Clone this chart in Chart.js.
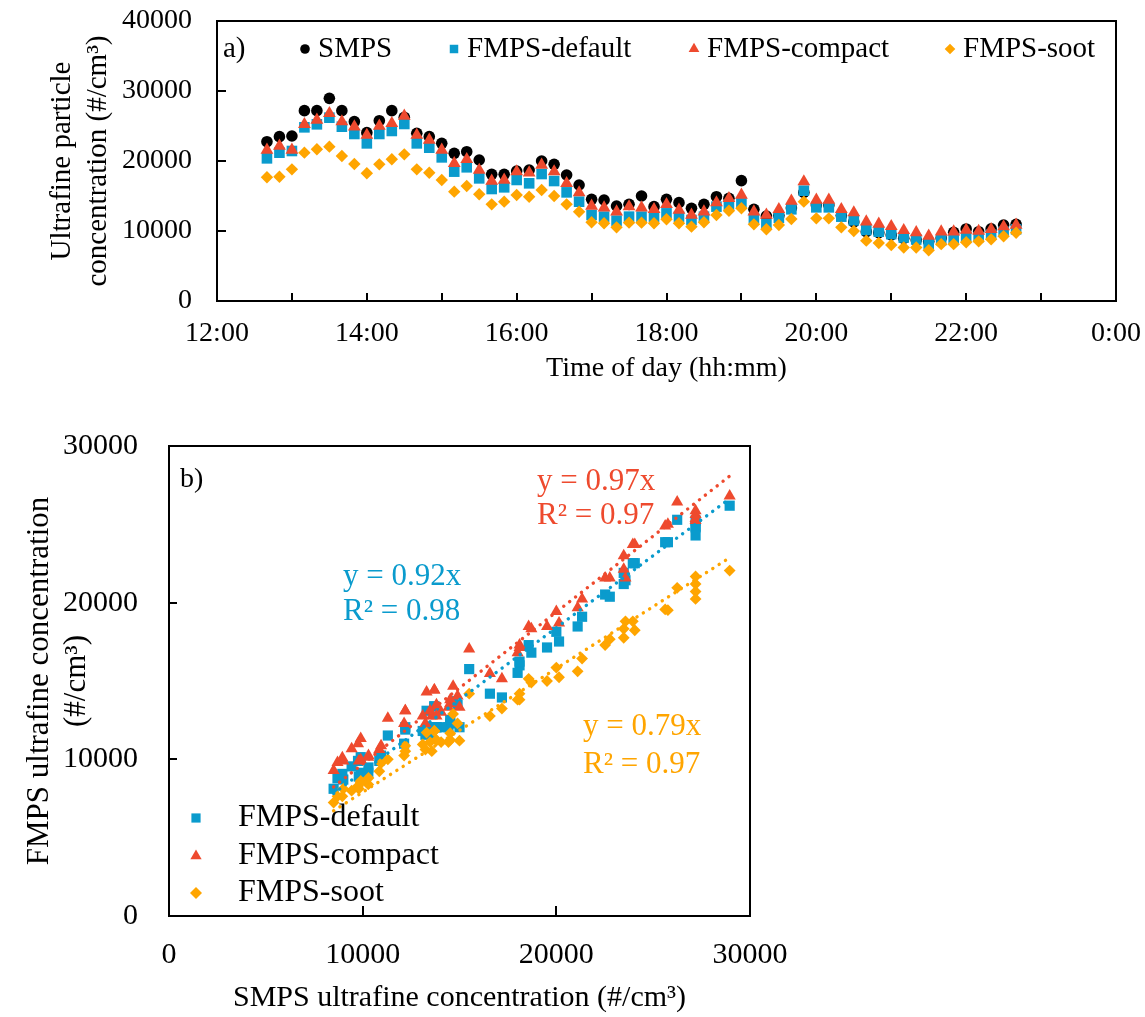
<!DOCTYPE html>
<html><head><meta charset="utf-8">
<script src="https://cdn.jsdelivr.net/npm/chart.js@4.4.1/dist/chart.umd.min.js"></script>
<style>
html,body{margin:0;padding:0;background:#fff;width:1145px;height:1017px;overflow:hidden}
#ca{position:absolute;left:0;top:0}
#cb{position:absolute;left:0;top:400px}
</style></head><body>
<canvas id="ca" width="1145" height="400"></canvas>
<canvas id="cb" width="800" height="617"></canvas>
<script>
// ---------------- data ----------------
const times = ['12:40','12:50','13:00','13:10','13:20','13:30','13:40','13:50','14:00','14:10',
  '14:20','14:30','14:40','14:50','15:00','15:10','15:20','15:30','15:40','15:50',
  '16:00','16:10','16:20','16:30','16:40','16:50','17:00','17:10','17:20','17:30',
  '17:40','17:50','18:00','18:10','18:20','18:30','18:40','18:50','19:00','19:10',
  '19:20','19:30','19:40','19:50','20:00','20:10','20:20','20:30','20:40','20:50',
  '21:00','21:10','21:20','21:30','21:40','21:50','22:00','22:10','22:20','22:30','22:40'];
const smps = [22760,23480,23570,27190,27190,28950,27190,25620,24050,25760,
  27190,26240,23950,23480,22520,21100,21330,20140,18100,18100,
  18570,18710,20000,19520,18000,16570,14520,14430,13570,13810,
  15000,13480,14520,14050,13240,13810,14900,14670,17190,13100,
  12140,12200,13300,15500,13700,13700,12200,11300,9900,9760,
  9430,8950,8700,8500,9000,9800,10290,9900,10300,10860,10950];
const fmpsDefault = [20380,21190,21430,24810,25240,26190,24900,23860,22520,23860,
  24290,25290,22520,21900,20520,18480,19100,17520,16000,16240,
  17290,16810,18140,17140,15520,14190,12290,12050,11480,12050,
  12050,12050,12520,12050,11570,12050,13480,13710,13950,11810,
  11000,11900,13100,15760,13380,13380,12050,11520,10140,9900,
  9550,9070,8790,8120,8710,8900,9140,9140,9480,9900,10240];
const fmpsCompact = [21570,22140,21570,25240,25860,26810,25620,24900,23710,25000,
  25380,26430,23710,23000,21570,19670,20240,18710,17140,17290,
  18480,18330,19430,18480,16810,15480,13570,13330,12760,13480,
  13330,13100,13810,13000,12290,12760,14050,14670,15140,12760,
  12290,13100,14290,17050,14430,14430,13100,12620,11330,11000,
  10670,10100,9790,9290,9900,9900,10140,9980,10240,10620,10860];
const fmpsSoot = [17670,17760,18810,21190,21670,22050,20710,19570,18240,19520,
  20240,20950,18810,18330,17290,15620,16430,15240,13810,14190,
  15140,14900,15860,15000,13810,12760,11240,11100,10520,11190,
  11190,11100,11670,11100,10620,11240,12290,12900,13240,10950,
  10240,10860,11710,14190,11810,11810,10520,10000,8620,8290,
  8000,7640,7640,7240,8120,8120,8400,8520,8810,9240,9760];
const seriesNames = ['SMPS','FMPS-default','FMPS-compact','FMPS-soot'];
const timeTickLabels = ['12:00','14:00','16:00','18:00','20:00','22:00','0:00'];
const yTickLabelsA = ['0','10000','20000','30000','40000'];
const xTickLabelsB = ['0','10000','20000','30000'];
const yTickLabelsB = ['0','10000','20000','30000'];
const fitSlopes = [0.92, 0.97, 0.79];   // default, compact, soot
const fitR2 = [0.98, 0.97, 0.97];

// ---------------- style ----------------
const FONT = "'Liberation Serif', 'Times New Roman', serif";
const C_SMPS = '#000000', C_DEF = '#0A9BCD', C_CMP = '#EE4A2E', C_SOOT = '#FFA500';
Chart.defaults.font.family = FONT;
Chart.defaults.color = '#000';

const toHours = s => { const [h, m] = s.split(':').map(Number); return h + m / 60; };
const noPad = s => { s.paddingLeft = 0; s.paddingRight = 0; s.paddingTop = 0; s.paddingBottom = 0; };

function drawMarker(ctx, style, r, x, y, color) {
  ctx.save();
  ctx.fillStyle = color;
  ctx.beginPath();
  if (style === 'circle') {
    ctx.arc(x, y, r, 0, Math.PI * 2);
  } else if (style === 'rect') {
    const s = Math.SQRT1_2 * r;
    ctx.rect(x - s, y - s, 2 * s, 2 * s);
  } else if (style === 'triangle') {
    ctx.moveTo(x, y - r);
    ctx.lineTo(x + Math.sin(2 * Math.PI / 3) * r, y + r / 2);
    ctx.lineTo(x - Math.sin(2 * Math.PI / 3) * r, y + r / 2);
    ctx.closePath();
  } else if (style === 'rectRot') {
    ctx.moveTo(x, y - r); ctx.lineTo(x + r, y); ctx.lineTo(x, y + r); ctx.lineTo(x - r, y);
    ctx.closePath();
  }
  ctx.fill();
  ctx.restore();
}

function framePlugin(xLen, yLen) {
  return {
    id: 'frame',
    afterDraw(chart) {
      const {ctx, chartArea: a, scales} = chart;
      ctx.save();
      ctx.strokeStyle = '#000';
      ctx.lineWidth = 2;
      ctx.strokeRect(a.left, a.top, a.right - a.left, a.bottom - a.top);
      scales.x.ticks.forEach(t => {
        if (t.value <= scales.x.min || t.value >= scales.x.max) return;
        const px = Math.round(scales.x.getPixelForValue(t.value));
        ctx.beginPath(); ctx.moveTo(px, a.bottom); ctx.lineTo(px, a.bottom - xLen); ctx.stroke();
      });
      scales.y.ticks.forEach(t => {
        if (t.value <= scales.y.min || t.value >= scales.y.max) return;
        const py = Math.round(scales.y.getPixelForValue(t.value));
        ctx.beginPath(); ctx.moveTo(a.left, py); ctx.lineTo(a.left + yLen, py); ctx.stroke();
      });
      ctx.restore();
    }
  };
}

// ---------------- panel a ----------------
const ptsA = arr => times.map((t, i) => ({x: toHours(t), y: arr[i]}));
const dsA = [
  {label: seriesNames[0], data: ptsA(smps), pointStyle: 'circle', pointRadius: 5.8, backgroundColor: C_SMPS, order: 4},
  {label: seriesNames[1], data: ptsA(fmpsDefault), pointStyle: 'rect', pointRadius: 7.5, backgroundColor: C_DEF, order: 3},
  {label: seriesNames[2], data: ptsA(fmpsCompact), pointStyle: 'triangle', pointRadius: 7.4, backgroundColor: C_CMP, order: 2},
  {label: seriesNames[3], data: ptsA(fmpsSoot), pointStyle: 'rectRot', pointRadius: 6.2, backgroundColor: C_SOOT, order: 1}
].map(d => Object.assign(d, {borderWidth: 0, pointBorderWidth: 0, pointHoverRadius: d.pointRadius, borderColor: d.backgroundColor}));

const legendA = {
  id: 'legendA',
  afterDraw(chart) {
    const ctx = chart.ctx;
    ctx.save();
    ctx.font = '29px ' + FONT;
    ctx.fillStyle = '#000';
    ctx.textBaseline = 'middle';
    ctx.textAlign = 'left';
    const y = 49;
    ctx.fillText('a)', 223, y);
    const mx = [305, 454, 694, 950];
    const radii = [4.8, 6, 6.2, 5.3];
    chart.data.datasets.forEach((d, i) => {
      drawMarker(ctx, d.pointStyle, radii[i], mx[i], y, d.backgroundColor);
      ctx.fillStyle = '#000';
      ctx.fillText(d.label, mx[i] + 13, y);
    });
    ctx.restore();
  }
};

new Chart(document.getElementById('ca'), {
  type: 'scatter',
  data: {datasets: dsA},
  options: {
    responsive: false, animation: false, devicePixelRatio: 1,
    layout: {padding: {top: 21, right: 29, bottom: 0, left: 0}},
    plugins: {legend: {display: false}, tooltip: {enabled: false}},
    scales: {
      x: {
        type: 'linear', min: 12, max: 24,
        grid: {display: false, drawTicks: false}, border: {display: false},
        afterFit: s => { s.height = 99; noPad(s); },
        afterBuildTicks: s => { s.ticks = []; for (let h = 12; h <= 24; h++) s.ticks.push({value: h}); },
        ticks: {
          autoSkip: false, maxRotation: 0, padding: 16, font: {size: 28},
          callback: v => (v % 2 === 0 ? timeTickLabels[(v - 12) / 2] : '')
        },
        title: {display: true, text: 'Time of day (hh:mm)', font: {size: 28}, padding: {top: 0, bottom: 15}}
      },
      y: {
        min: 0, max: 40000,
        grid: {display: false, drawTicks: false}, border: {display: false},
        afterFit: s => { s.width = 217; noPad(s); },
        ticks: {stepSize: 10000, padding: 25, font: {size: 28}, callback: (v, i) => yTickLabelsA[i]},
        title: {display: true, text: ['Ultrafine particle', 'concentration (#/cm³)'],
          font: {size: 29, lineHeight: 1.24}, padding: {top: 44, bottom: 0}}
      }
    }
  },
  plugins: [framePlugin(8, 9), legendA]
});

// ---------------- panel b ----------------
const ptsB = arr => smps.map((s, i) => ({x: s, y: arr[i]}));
const xMin = Math.min(...smps), xMax = Math.max(...smps);
const fitLine = k => [{x: xMin, y: k * xMin}, {x: xMax, y: k * xMax}];
const markB = (label, arr, style, r, color, order) => ({
  label, data: ptsB(arr), pointStyle: style, pointRadius: r, pointHoverRadius: r,
  backgroundColor: color, borderColor: color, borderWidth: 0, pointBorderWidth: 0, order
});
const trendB = (k, color) => ({
  label: 'fit', data: fitLine(k), showLine: true, pointRadius: 0, borderColor: color,
  borderWidth: 3.4, borderDash: [0.1, 7.4], borderCapStyle: 'round', fill: false, order: 0, isFit: true
});
const dsB = [
  markB(seriesNames[1], fmpsDefault, 'rect', 7.2, C_DEF, 3),
  markB(seriesNames[2], fmpsCompact, 'triangle', 7, C_CMP, 2),
  markB(seriesNames[3], fmpsSoot, 'rectRot', 5.9, C_SOOT, 1),
  trendB(fitSlopes[0], C_DEF),
  trendB(fitSlopes[1], C_CMP),
  trendB(fitSlopes[2], C_SOOT)
];

const legendB = {
  id: 'legendB',
  afterDraw(chart) {
    const ctx = chart.ctx;
    ctx.save();
    ctx.textBaseline = 'middle';
    ctx.textAlign = 'left';
    ctx.font = '28px ' + FONT;
    ctx.fillStyle = '#000';
    ctx.fillText('b)', 180, 80);
    // legend
    ctx.font = '32px ' + FONT;
    const rows = [418, 456, 493];
    const radii = [6.5, 6.5, 6];
    chart.data.datasets.filter(d => !d.isFit).forEach((d, i) => {
      drawMarker(ctx, d.pointStyle, radii[i], 196, rows[i], d.backgroundColor);
      ctx.fillStyle = '#000';
      ctx.fillText(d.label, 238, rows[i]);
    });
    // fit equations
    ctx.font = '31px ' + FONT;
    const pos = [[343, 177, 212], [537, 82, 116], [583, 327, 365]];
    const cols = [C_DEF, C_CMP, C_SOOT];
    fitSlopes.forEach((k, i) => {
      ctx.fillStyle = cols[i];
      ctx.fillText('y = ' + k.toFixed(2) + 'x', pos[i][0], pos[i][1]);
      ctx.fillText('R² = ' + fitR2[i].toFixed(2), pos[i][0], pos[i][2]);
    });
    ctx.restore();
  }
};

new Chart(document.getElementById('cb'), {
  type: 'scatter',
  data: {datasets: dsB},
  options: {
    responsive: false, animation: false, devicePixelRatio: 1,
    layout: {padding: {top: 46, right: 50, bottom: 0, left: 0}},
    plugins: {legend: {display: false}, tooltip: {enabled: false}},
    scales: {
      x: {
        type: 'linear', min: 0, max: 30000,
        grid: {display: false, drawTicks: false}, border: {display: false},
        afterFit: s => { s.height = 101; noPad(s); },
        ticks: {stepSize: 10000, maxRotation: 0, autoSkip: false, padding: 21, font: {size: 30},
          callback: (v, i) => xTickLabelsB[i]},
        title: {display: true, text: 'SMPS ultrafine concentration (#/cm³)', font: {size: 30}, padding: {top: 0, bottom: 1}}
      },
      y: {
        min: 0, max: 30000,
        grid: {display: false, drawTicks: false}, border: {display: false},
        afterFit: s => { s.width = 169; noPad(s); },
        ticks: {stepSize: 10000, padding: 31, font: {size: 30}, callback: (v, i) => yTickLabelsB[i]},
        title: {display: true, text: ['FMPS ultrafine concentration', '(#/cm³)'],
          font: {size: 31, lineHeight: 1.19}, padding: {top: 21.5, bottom: 0}}
      }
    }
  },
  plugins: [framePlugin(10, 8), legendB]
});
</script>
</body></html>
